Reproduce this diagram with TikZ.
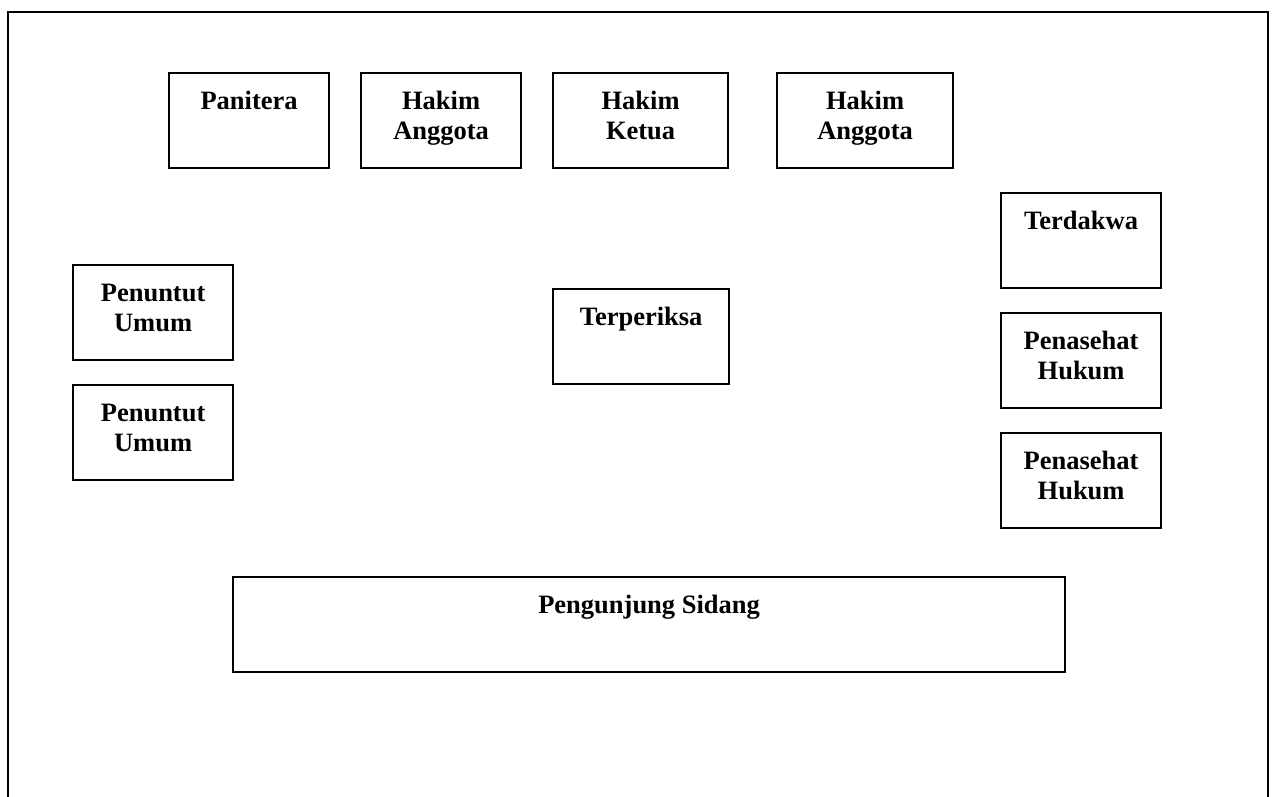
\documentclass[tikz,border=0pt]{standalone}
\usepackage{fontspec}
\setmainfont{Liberation Serif}
\usetikzlibrary{calc}
\tikzset{
  seat/.style={draw=black, line width=2.2pt, fill=white, inner sep=0pt, anchor=north west},
  seatlabel/.style={font=\fontsize{26.5}{30}\selectfont\bfseries, align=center, inner sep=0pt, anchor=base},
  frame/.style={draw=black, line width=2.2pt},
}
% seat box with a one-line label near its top (base of the label 37pt below the top edge)
\newcommand{\seatbox}[6]{%
  \node[seat, minimum width=#3pt, minimum height=#4pt] (#5) at (#1,#2) {};
  \node[seatlabel] (#5-text) at ($(#5.north)+(0,37)$) {#6};
}
% seat box with a two-line label; the base anchor sits on the last line
\newcommand{\seatboxtwo}[6]{%
  \node[seat, minimum width=#3pt, minimum height=#4pt] (#5) at (#1,#2) {};
  \node[seatlabel] (#5-text) at ($(#5.north)+(0,67)$) {#6};
}
\begin{document}
\begin{tikzpicture}[x=1pt, y=-1pt]
  \useasboundingbox (0,0) rectangle (1277,796);
  % room walls, open at the bottom
  \coordinate (wallBL) at (8,797);
  \coordinate (wallTL) at (8,12);
  \coordinate (wallTR) at (1268,12);
  \coordinate (wallBR) at (1268,797);
  \draw[frame] (wallBL) -- (wallTL) -- (wallTR) -- (wallBR);

  % bench
  \seatbox{168}{72}{160}{95}{panitera}{Panitera}
  \seatboxtwo{360}{72}{160}{95}{hakimA}{Hakim\\Anggota}
  \seatboxtwo{552}{72}{175}{95}{ketua}{Hakim\\Ketua}
  \seatboxtwo{776}{72}{176}{95}{hakimB}{Hakim\\Anggota}

  % prosecution
  \seatboxtwo{72}{264}{160}{95}{jaksaA}{Penuntut\\Umum}
  \seatboxtwo{72}{384}{160}{95}{jaksaB}{Penuntut\\Umum}

  % witness stand
  \seatbox{552}{288}{176}{95}{terperiksa}{Terperiksa}

  % defence
  \seatbox{1000}{192}{160}{95}{terdakwa}{Terdakwa}
  \seatboxtwo{1000}{312}{160}{95}{penasehatA}{Penasehat\\Hukum}
  \seatboxtwo{1000}{432}{160}{95}{penasehatB}{Penasehat\\Hukum}

  % public gallery
  \seatbox{232}{576}{832}{95}{pengunjung}{Pengunjung Sidang}
\end{tikzpicture}
\end{document}
